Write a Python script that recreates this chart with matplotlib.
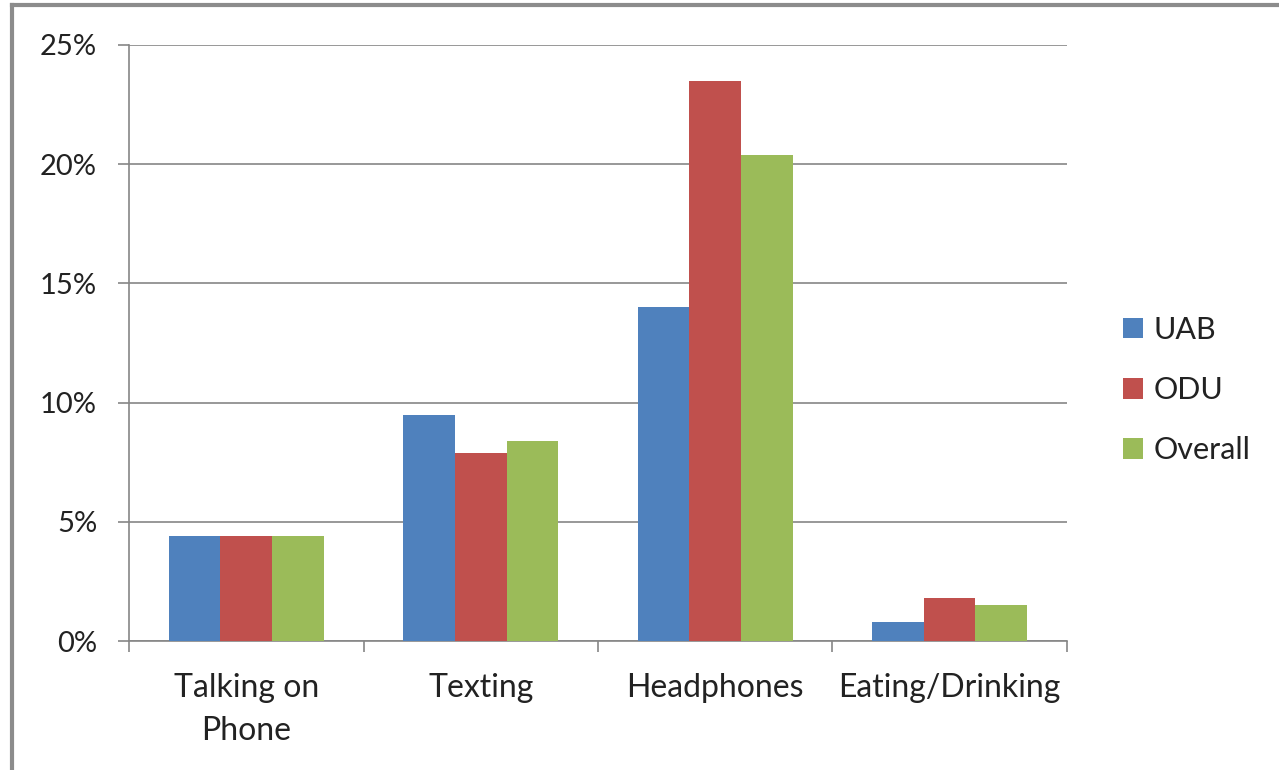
import numpy as np
import matplotlib.pyplot as plt
from matplotlib.lines import Line2D
from matplotlib.ticker import PercentFormatter

categories = ['Talking on\nPhone', 'Texting', 'Headphones', 'Eating/Drinking']
uab = [4.4, 9.5, 14.0, 0.8]
odu = [4.4, 7.9, 23.5, 1.8]
overall = [4.4, 8.4, 20.4, 1.5]

series = [('UAB', uab, '#4F81BD'), ('ODU', odu, '#C0504D'), ('Overall', overall, '#9BBB59')]

plt.rcParams['font.family'] = ['Lato', 'DejaVu Sans']

fig = plt.figure(figsize=(12.79, 7.7), dpi=100)
ax = fig.add_axes([0.1009, 0.1675, 0.7333, 0.7741])

x = np.arange(len(categories))
w = 0.22
for i, (name, vals, col) in enumerate(series):
    ax.bar(x + (i - 1) * w, vals, width=w, color=col, label=name, zorder=3)

ax.set_xlim(-0.5, len(categories) - 0.5)
ax.set_ylim(0, 25)
ax.set_yticks(range(0, 26, 5))
ax.yaxis.set_major_formatter(PercentFormatter(decimals=0))
ax.grid(axis='y', color='#868686', linewidth=1.2, zorder=0)

# category ticks sit between groups, labels centred under each group
ax.set_xticks(np.arange(-0.5, len(categories)), minor=False)
ax.set_xticklabels([])
ax.set_xticks(x, minor=True)
ax.set_xticklabels(categories, minor=True, fontsize=23, color='#222222', linespacing=1.55)
ax.tick_params(axis='x', which='minor', length=0, pad=23)
ax.tick_params(axis='x', which='major', length=8, color='#868686', width=1.2)
ax.tick_params(axis='y', length=8, color='#868686', width=1.2, labelsize=21,
               labelcolor='#222222', pad=15)

for side in ['top', 'right']:
    ax.spines[side].set_visible(False)
for side in ['left', 'bottom']:
    ax.spines[side].set_color('#868686')
    ax.spines[side].set_linewidth(1.2)

ax.legend(loc='center left', bbox_to_anchor=(1.06, 0.421), frameon=False, fontsize=22,
          borderpad=0, borderaxespad=0, handlelength=0.65, handleheight=0.65,
          handletextpad=0.35, labelspacing=1.05, labelcolor='#222222')

# outer frame of the chart area
fig.add_artist(Line2D([0.0090, 0.0090], [0.0, 0.9935], color='#8c8c8c', linewidth=3,
                      transform=fig.transFigure))
fig.add_artist(Line2D([0.0090, 1.0], [0.9935, 0.9935], color='#8c8c8c', linewidth=3,
                      transform=fig.transFigure))

fig.savefig('out.png', dpi=100)
